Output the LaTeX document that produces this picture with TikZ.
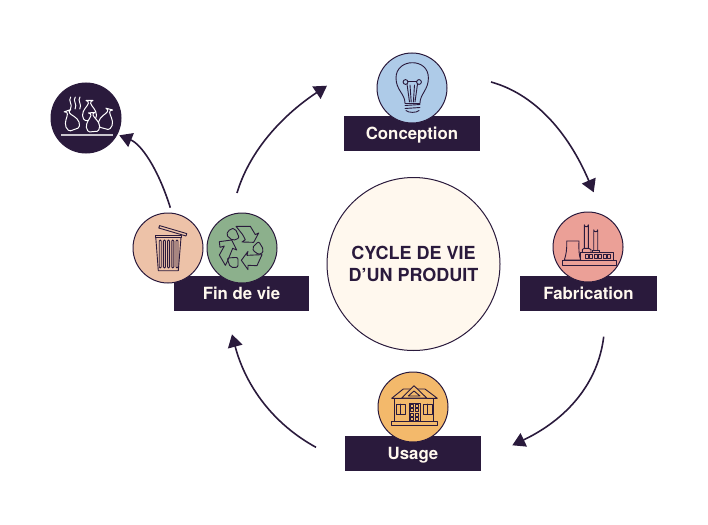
\documentclass[tikz,border=0pt]{standalone}
\usepackage{fontspec}
\setmainfont{TeX Gyre Heros}
\usetikzlibrary{arrows.meta}
\definecolor{ink}{HTML}{2A1A3C}
\definecolor{cream}{HTML}{FFF8EE}
\definecolor{bulbblue}{HTML}{AECBE8}
\definecolor{salmon}{HTML}{EBA097}
\definecolor{amber}{HTML}{F3B96B}
\definecolor{peach}{HTML}{EDC2A8}
\definecolor{sage}{HTML}{8CB08C}
\tikzset{
  label box/.style={fill=ink,minimum width=136pt,minimum height=35pt,inner sep=0pt,
    text height=14pt,text depth=2.4pt,
    text=cream,font=\fontsize{16.8}{20}\selectfont\bfseries},
  disc/.style={circle,draw=ink,line width=1pt,minimum size=70pt,inner sep=0pt},
  flow/.style={draw=ink,line width=1.6pt,-{Triangle[width=14.7pt,length=12.7pt]}},
  ico/.style={draw=ink,line width=.9pt,line join=round,line cap=round},
  wico/.style={draw=white,line width=1pt,line join=round,line cap=round},
}
% one rubbish sack: knot at the origin, body below it
\newcommand{\wastesack}[4]{%
  \begin{scope}[shift={(#1,#2)},rotate=#3,scale=#4]
    \path[wico,fill=ink] (-3.5,-3) .. controls (-1,-2) .. (-1.2,0)
      .. controls (-2,3) and (-7,6) .. (-7,12)
      .. controls (-7,15) and (-5,17) .. (-4,17) -- (4,17)
      .. controls (5,17) and (7,15) .. (7,12)
      .. controls (7,6) and (2,3) .. (1.2,0)
      .. controls (1,-2) .. (3.5,-3) -- cycle;
  \end{scope}}
\begin{document}
\begin{tikzpicture}[x=1pt,y=-1pt]
\useasboundingbox (0,0) rectangle (708,524);

% centre
\node[circle,draw=ink,line width=1pt,fill=cream,minimum size=173pt,inner sep=0pt,
  text=ink,align=center,font=\fontsize{18}{21.5}\selectfont\bfseries] (centre) at (413.5,264)
  {CYCLE DE VIE\\D’UN PRODUIT};

% labels
\node[label box] (conception) at (412,133.5) {Conception};
\node[label box,minimum width=135pt] (findevie) at (241.5,293.5) {Fin de vie};
\node[label box,minimum width=137pt] (fabrication) at (588.5,293.5) {Fabrication};
\node[label box] (usage) at (413,453.5) {Usage};

% discs
\node[disc,fill=bulbblue] (bulbdisc) at (412,88) {};
\node[disc,fill=ink] (wastedisc) at (86,118) {};
\node[disc,fill=peach] (trashdisc) at (168,248) {};
\node[disc,fill=sage] (recycledisc) at (242,248) {};
\node[disc,fill=salmon] (factorydisc) at (588,247) {};
\node[disc,fill=amber] (housedisc) at (413,407) {};

% light bulb
\draw[ico] (405,103) .. controls (405,94) and (396,90) .. (396,78)
  .. controls (396,68) and (404,62.7) .. (412.3,62.7)
  .. controls (421,62.7) and (428.4,68) .. (428.4,78)
  .. controls (428.4,90) and (420,94) .. (420,103);
\draw[ico] (405.5,82) circle (2.4) (419,82) circle (2.4);
\draw[ico] (407,84) -- (409.5,102) (410,85) -- (411.2,102)
           (417.5,84) -- (415,102) (414.5,85) -- (413.4,102)
           (407.8,81.5) -- (416.6,81.5);
\draw[ico] (405,103) -- (420,103);
\draw[ico] (405,105.5) -- (420,104.5) (405,108.5) -- (420,107.5);
\draw[ico] (406,110.5) .. controls (408,113) and (417,113) .. (419,110.5);

% steaming rubbish sacks
\foreach \sx in {70.7,75.3,80}{
  \draw[wico] (\sx,97) .. controls (\sx-3,101) and (\sx+2.4,104) .. (\sx-.2,109);
}
\wastesack{89.5}{103.5}{0}{1}
\wastesack{68.5}{113.5}{20}{1}
\wastesack{108.5}{112}{-15}{1}
\wastesack{92}{115.5}{5}{.95}
\draw[draw=white!75!ink,line width=1.6pt] (61,135) -- (113.3,135);

% dustbin
\draw[ico] (159.6,225.6) -- (186.8,233.6) -- (186,236) -- (158.8,228) -- cycle;
\draw[ico] (155,235) -- (181.7,235) -- (181.7,237.6) -- (155,237.6) -- cycle;
\draw[ico] (155.8,237.6) -- (158.3,270.7) -- (178.3,270.7) -- (181,237.6);
\foreach \rx in {160.2,164.4,168.6,172.8,177}{
  \draw[ico,line width=.9pt,rounded corners=1pt] (\rx-1,240) rectangle (\rx+1,268);
}

% recycling arrows, traced on a third-of-a-point grid
\begin{scope}[shift={(212,218)},x=1pt/3,y=-1pt/3]
  \draw[ico] (72,25) -- (115,25) -- (130,50) -- (140,45) -- (125,73) -- (90,72)
    -- (100,65) -- (92,50) -- cycle;
  \draw[ico,rounded corners=2pt] (42,50) -- (55,32) -- (70,32) -- (82,60) -- (62,68) -- cycle;
  \draw[ico] (22,71) -- (59,66) -- (74,96) -- (62,91) -- (47,128) -- (40,142)
    -- (22,111) -- (37,84) -- (24,88) -- cycle;
  \draw[ico,rounded corners=2pt] (45,120) -- (78,118) -- (78,148) -- (55,148) -- cycle;
  \draw[ico,rounded corners=2pt] (120,90) -- (140,70) -- (155,95) -- (148,110) -- (130,105) -- cycle;
  \draw[ico] (88,127) -- (108,100) -- (105,112) -- (150,110) -- (135,143) -- (108,142)
    -- (108,155) -- cycle;
\end{scope}

% power plant
\draw[ico] (566.7,241) .. controls (567,250) and (566,255) .. (564.3,260)
  -- (580.7,260) .. controls (579,255) and (578.6,250) .. (579,241) -- cycle;
\draw[ico] (562.3,260) rectangle (616,265);
\draw[ico] (580.7,252.3) rectangle (613.3,260);
\foreach \wx in {586.5,591,595.5,600,604.5,609}{
  \draw[ico,line width=.7pt] (\wx-1.4,254.4) rectangle (\wx+1.4,258.4);
}
\draw[ico] (584.3,248.3) -- (584.3,224.8) arc[start angle=180,end angle=0,radius=2] -- (588.3,248.3);
\draw[ico] (582.3,252.3) -- (582.3,249.5) -- (584.3,248.3) -- (588.3,248.3) -- (591,249.5) -- (591,252.3);
\draw[ico] (593.7,250) -- (593.7,229.8) arc[start angle=180,end angle=0,radius=2] -- (597.7,250);
\draw[ico] (592.3,252.3) -- (592.3,250) -- (599.3,250) -- (599.3,252.3);

% house
\draw[ico] (394,398.3) rectangle (433.3,421.7);
\draw[ico] (391,421.7) rectangle (437.7,425.3);
\draw[ico] (391.7,398.3) -- (403.3,389) -- (425,389) -- (437.3,398.3) -- cycle;
\draw[ico,fill=amber] (401.7,398) -- (414,385.7) -- (426.7,398) -- cycle;
\draw[ico] (408.3,396) -- (414,391) -- (420,396) -- cycle;
\draw[ico] (396.7,404) rectangle (405,414) (400.85,404) -- (400.85,414);
\draw[ico] (423.3,404) rectangle (432.3,414) (427.8,404) -- (427.8,414);
\draw[ico] (409,403.3) rectangle (420,421.7);
\foreach \dy in {404.6,408.8,413,417.2}{
  \foreach \dx in {410.5,415.2}{
    \draw[ico,line width=.7pt] (\dx,\dy) rectangle +(3.2,3);
  }
}

% free ends of the connectors
\coordinate (leaveFin) at (237,193);
\coordinate (enterConception) at (327,85.7);
\coordinate (leaveConception) at (491,82);
\coordinate (enterFabrication) at (593.7,192.3);
\coordinate (leaveFabrication) at (603.7,336.7);
\coordinate (enterUsage) at (512.3,445.3);
\coordinate (leaveUsage) at (316,447.3);
\coordinate (enterFin) at (232,334.3);
\coordinate (leaveTrash) at (170.3,207.7);
\coordinate (enterWaste) at (119.3,135.3);

% connectors
\draw[flow] (leaveFin) .. controls (248.7,153.7) and (278.7,117.9) .. (enterConception);
\draw[flow] (leaveConception) .. controls (533.2,93.6) and (567.4,130.4) .. (enterFabrication);
\draw[flow] (leaveFabrication) .. controls (598.2,382.6) and (567.7,418.8) .. (enterUsage);
\draw[flow] (leaveUsage) .. controls (273.7,424.2) and (245.7,386.5) .. (enterFin);
\draw[flow] (leaveTrash) .. controls (158,168.2) and (141,144.1) .. (enterWaste);
\end{tikzpicture}
\end{document}
